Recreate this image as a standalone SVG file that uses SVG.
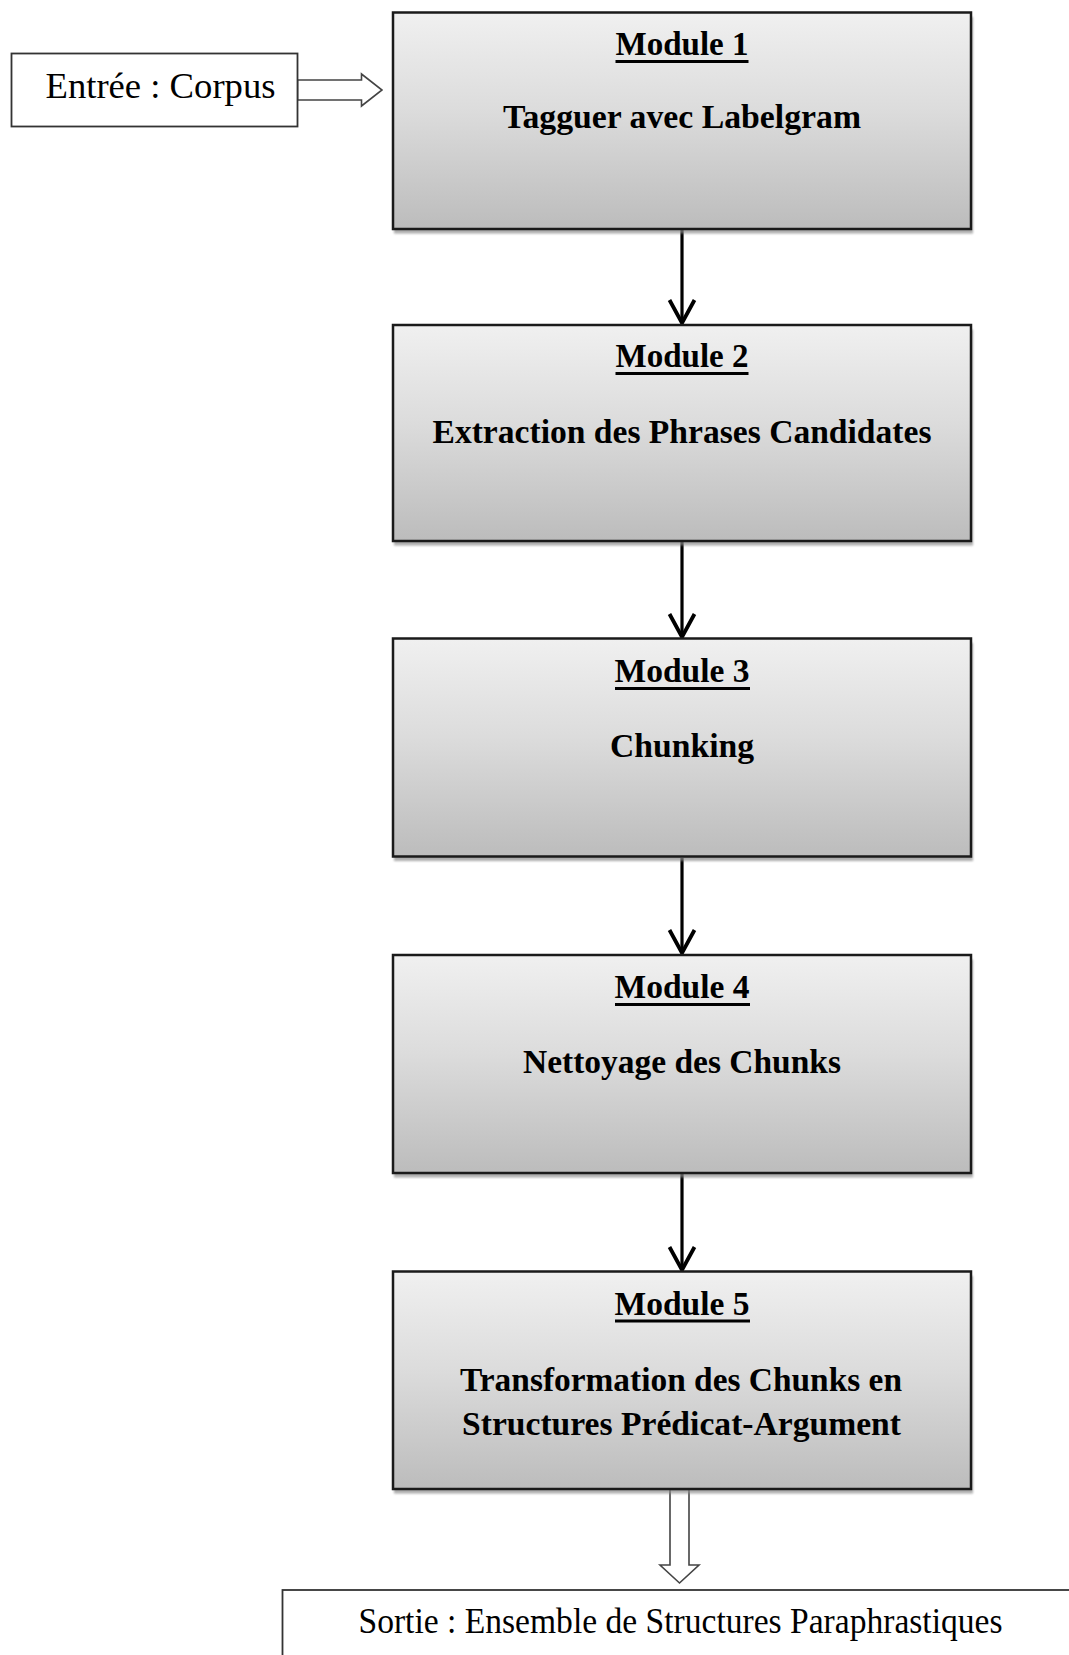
<svg xmlns="http://www.w3.org/2000/svg" width="1069" height="1655" viewBox="0 0 1069 1655">
<style>
  .box { fill: url(#g); stroke: #1a1a1a; stroke-width: 2.5; }
  .shadow { fill: #8a8a8a; opacity: 0.7; filter: url(#blur); }
  .title { font-family: "Liberation Serif", "Times New Roman", serif; font-weight: bold; font-size: 33px; fill: #000; text-anchor: middle; }
  .desc { font-family: "Liberation Serif", "Times New Roman", serif; font-weight: bold; font-size: 33px; fill: #000; text-anchor: middle; }
  .ul { stroke: #000; stroke-width: 2.8; }
  .plain { font-family: "Liberation Serif", "Times New Roman", serif; fill: #000; }
  .conn { stroke: #000; stroke-width: 3.2; fill: none; marker-end: url(#chev); }
  .hollow { fill: #fff; stroke: #444; stroke-width: 1.6; stroke-linejoin: miter; }
  .io { fill: #fff; stroke: #333; stroke-width: 1.8; }
</style>
<defs>
  <linearGradient id="g" x1="0" y1="0" x2="0" y2="1">
    <stop offset="0" stop-color="#f0f0f0"/>
    <stop offset="0.45" stop-color="#dcdcdc"/>
    <stop offset="1" stop-color="#bcbcbc"/>
  </linearGradient>
  <filter id="blur" x="-5%" y="-5%" width="110%" height="110%">
    <feGaussianBlur stdDeviation="1.2"/>
  </filter>
  <marker id="chev" markerUnits="userSpaceOnUse" viewBox="-28 -16 32 32" refX="0" refY="0" markerWidth="32" markerHeight="32" orient="auto">
    <path d="M -23 -12.5 L 0 0 L -23 12.5" fill="none" stroke="#000" stroke-width="3.8" stroke-linejoin="miter"/>
  </marker>
</defs>

<g id="connectors">
  <line class="conn" x1="682" y1="230" x2="682" y2="323"/>
  <line class="conn" x1="682" y1="542" x2="682" y2="637"/>
  <line class="conn" x1="682" y1="858" x2="682" y2="953"/>
  <line class="conn" x1="682" y1="1174" x2="682" y2="1270"/>
  <path class="hollow" d="M 297.5 80 L 361.5 80 L 361.5 74 L 382 90 L 361.5 106 L 361.5 100 L 297.5 100 Z"/>
  <path class="hollow" d="M 670 1489.5 L 689 1489.5 L 689 1565 L 699 1565 L 679.5 1583 L 660 1565 L 670 1565 Z"/>
</g>

<g id="input">
  <rect class="io" x="11.5" y="53.5" width="286" height="73"/>
  <text class="plain" x="45.5" y="98" font-size="35" textLength="230" lengthAdjust="spacingAndGlyphs">Entrée : Corpus</text>
</g>

<g id="module1">
  <rect class="shadow" x="394" y="17" width="579" height="216.5"/>
  <rect class="box" x="393" y="12.5" width="578" height="216.5"/>
  <text class="title" x="682" y="55" textLength="133" lengthAdjust="spacingAndGlyphs">Module 1</text>
  <line class="ul" x1="615.5" y1="61.5" x2="748.5" y2="61.5"/>
  <text class="desc" x="682" y="128" textLength="358" lengthAdjust="spacingAndGlyphs">Tagguer avec Labelgram</text>
</g>

<g id="module2">
  <rect class="shadow" x="394" y="329.5" width="579" height="216"/>
  <rect class="box" x="393" y="325" width="578" height="216"/>
  <text class="title" x="682" y="367" textLength="133" lengthAdjust="spacingAndGlyphs">Module 2</text>
  <line class="ul" x1="615.5" y1="373.5" x2="748.5" y2="373.5"/>
  <text class="desc" x="682" y="443" textLength="499" lengthAdjust="spacingAndGlyphs">Extraction des Phrases Candidates</text>
</g>

<g id="module3">
  <rect class="shadow" x="394" y="643" width="579" height="218"/>
  <rect class="box" x="393" y="638.5" width="578" height="218"/>
  <text class="title" x="682" y="682" textLength="135" lengthAdjust="spacingAndGlyphs">Module 3</text>
  <line class="ul" x1="615" y1="688.5" x2="750" y2="688.5"/>
  <text class="desc" x="682" y="757" textLength="144" lengthAdjust="spacingAndGlyphs">Chunking</text>
</g>

<g id="module4">
  <rect class="shadow" x="394" y="959.5" width="579" height="218"/>
  <rect class="box" x="393" y="955" width="578" height="218"/>
  <text class="title" x="682" y="998" textLength="135" lengthAdjust="spacingAndGlyphs">Module 4</text>
  <line class="ul" x1="615" y1="1004.5" x2="750" y2="1004.5"/>
  <text class="desc" x="682" y="1073" textLength="318" lengthAdjust="spacingAndGlyphs">Nettoyage des Chunks</text>
</g>

<g id="module5">
  <rect class="shadow" x="394" y="1276" width="579" height="217.5"/>
  <rect class="box" x="393" y="1271.5" width="578" height="217.5"/>
  <text class="title" x="682" y="1315" textLength="135" lengthAdjust="spacingAndGlyphs">Module 5</text>
  <line class="ul" x1="615" y1="1321" x2="750" y2="1321"/>
  <text class="desc" x="681" y="1391" textLength="442" lengthAdjust="spacingAndGlyphs">Transformation des Chunks en</text>
  <text class="desc" x="681.5" y="1435" textLength="439" lengthAdjust="spacingAndGlyphs">Structures Prédicat-Argument</text>
</g>

<g id="output">
  <rect class="io" x="282.5" y="1590" width="900" height="200"/>
  <text class="plain" x="358.5" y="1633" font-size="35" textLength="644" lengthAdjust="spacingAndGlyphs">Sortie : Ensemble de Structures Paraphrastiques</text>
</g>
</svg>
